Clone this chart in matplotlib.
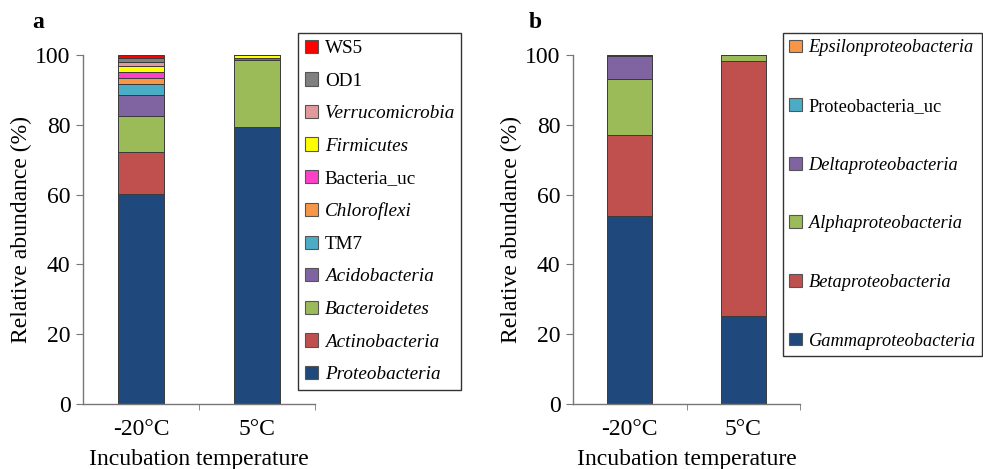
import matplotlib
matplotlib.use("Agg")
import matplotlib.pyplot as plt
from matplotlib.patches import Patch
import numpy as np

plt.rcParams['font.family'] = ['Liberation Serif', 'DejaVu Serif']

categories = ['-20°C', '5°C']

# Panel a: phyla (bottom to top)
phyla = ['Proteobacteria', 'Actinobacteria', 'Bacteroidetes', 'Acidobacteria', 'TM7',
         'Chloroflexi', 'Bacteria_uc', 'Firmicutes', 'Verrucomicrobia', 'OD1', 'WS5']
phyla_italic = [True, True, True, True, False, True, False, True, True, False, False]
phyla_colors = ['#1F497D', '#C0504D', '#9BBB59', '#8064A2', '#4BACC6',
                '#F79646', '#FF3FC8', '#FFFF00', '#E39A9A', '#808080', '#FF0000']
phyla_m20 = [60.2, 12.1, 10.1, 6.1, 3.1, 1.8, 1.6, 1.8, 1.3, 1.1, 0.8]
phyla_p5 = [79.3, 0.0, 19.3, 0.5, 0.0, 0.0, 0.0, 0.9, 0.0, 0.0, 0.0]

# Panel b: proteobacteria classes (bottom to top)
classes = ['Gammaproteobacteria', 'Betaproteobacteria', 'Alphaproteobacteria',
           'Deltaproteobacteria', 'Proteobacteria_uc', 'Epsilonproteobacteria']
classes_italic = [True, True, True, True, False, True]
classes_colors = ['#1F497D', '#C0504D', '#9BBB59', '#8064A2', '#4BACC6', '#F79646']
classes_m20 = [53.9, 23.3, 15.8, 6.6, 0.3, 0.1]
classes_p5 = [25.1, 73.1, 1.8, 0.0, 0.0, 0.0]

W, H = 983, 469
fig = plt.figure(figsize=(W / 100, H / 100), dpi=100)

def draw_panel(rect, names, italics, colors, v1, v2, leg_rect, fsize, spacing, letter, letter_xy):
    ax = fig.add_axes(rect)
    x = np.arange(len(categories))
    bottoms = np.zeros(len(categories))
    for name, col, a, b in zip(names, colors, v1, v2):
        vals = np.array([a, b])
        ax.bar(x, vals, width=0.4, bottom=bottoms, color=col,
               edgecolor='#3a3a3a', linewidth=0.7)
        bottoms += vals
    ax.set_xlim(-0.5, 1.5)
    ax.set_ylim(0, 100)
    ax.set_yticks(np.arange(0, 101, 20))
    ax.set_xticks(x)
    ax.set_xticklabels(categories)
    ax.set_xticks([0.5, 1.5], minor=True)
    ax.tick_params(axis='x', which='major', length=0, labelsize=17, pad=11)
    ax.tick_params(axis='x', which='minor', length=4, direction='out', color='#777777')
    ax.tick_params(axis='y', length=5, direction='out', labelsize=17, color='#777777', pad=4)
    for s in ['top', 'right']:
        ax.spines[s].set_visible(False)
    for s in ['left', 'bottom']:
        ax.spines[s].set_color('#777777')
        ax.spines[s].set_linewidth(1.0)
    ax.set_ylabel('Relative abundance (%)', fontsize=17, labelpad=2)
    ax.set_xlabel('Incubation temperature', fontsize=17, labelpad=6)

    handles = [Patch(facecolor=c, edgecolor='#555555', linewidth=0.8) for c in colors][::-1]
    labels = names[::-1]
    leg = fig.legend(handles, labels, loc='upper left',
                     bbox_to_anchor=(leg_rect[0] / W, 1 - leg_rect[1] / H),
                     bbox_transform=fig.transFigure, frameon=True, fancybox=False,
                     edgecolor='black', fontsize=fsize, handlelength=0.7, handleheight=0.7,
                     handletextpad=0.35, labelspacing=spacing, borderpad=0.35,
                     borderaxespad=0)
    leg.get_frame().set_linewidth(1.0)
    for t, it in zip(leg.get_texts(), italics[::-1]):
        if it:
            t.set_fontstyle('italic')
    fig.text(letter_xy[0] / W, 1 - letter_xy[1] / H, letter, fontsize=17,
             fontweight='bold', ha='center', va='center')
    return ax

draw_panel([83 / W, 1 - 404 / H, 232 / W, 349 / H], phyla, phyla_italic, phyla_colors,
           phyla_m20, phyla_p5, (298, 33), 13.8, 0.79, 'a', (38, 22))
draw_panel([573 / W, 1 - 404 / H, 227 / W, 349 / H], classes, classes_italic, classes_colors,
           classes_m20, classes_p5, (783, 33), 13.2, 2.27, 'b', (535, 22))

fig.savefig('out.png', dpi=100)
